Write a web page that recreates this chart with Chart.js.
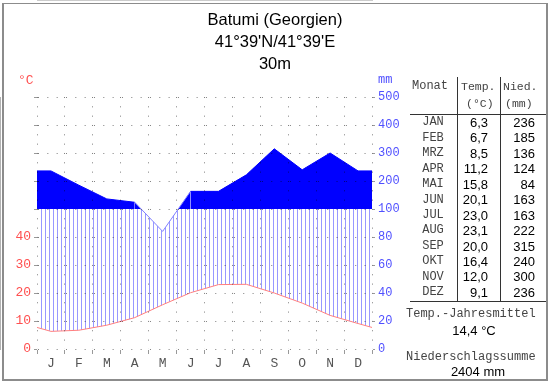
<!DOCTYPE html>
<html>
<head>
<meta charset="utf-8">
<script src="https://cdn.jsdelivr.net/npm/chart.js@4.4.1/dist/chart.umd.min.js"></script>
<style>
html,body{margin:0;padding:0;background:#fff;}
#wrap{position:relative;width:550px;height:384px;overflow:hidden;background:#fff;}
#c{position:absolute;left:0;top:0;}
#frame{position:absolute;left:2px;top:3px;width:546px;height:378px;box-sizing:border-box;border:2px solid #8c8c8c;border-top-width:1px;}
.t{position:absolute;white-space:nowrap;line-height:15px;}
.sans{font-family:"Liberation Sans",Arial,sans-serif;}
.mono{font-family:"Liberation Mono","Courier New",monospace;}
.title{left:0;width:550px;text-align:center;font-size:16.5px;line-height:20px;color:#000;}
.ln{position:absolute;background:#333;}
</style>
</head>
<body>
<div id="wrap">
  <canvas id="c" width="550" height="384"></canvas>
  <div id="frame"></div>
  <div id="texts"></div>
</div>
<script>
// ---- data ----
const stationTitle = ['Batumi (Georgien)', "41°39'N/41°39'E", '30m'];
const months = ['J','F','M','A','M','J','J','A','S','O','N','D'];
const monthNames = ['JAN','FEB','MRZ','APR','MAI','JUN','JUL','AUG','SEP','OKT','NOV','DEZ'];
const temperature = [6.3,6.7,8.5,11.2,15.8,20.1,23.0,23.1,20.0,16.4,12.0,9.1];
const precipitation = [236,185,136,124,84,163,163,222,315,240,300,236];
const tempTicks = [0,10,20,30,40];
const precipTicks = [0,20,40,60,80,100,200,300,400,500];
const annualMeanText = '14,4 °C';
const annualSumText = '2404 mm';

// mm -> axis units (0..100 mm : 2 mm per unit, above 100 mm : 10 mm per unit)
const mmToUnit = p => p <= 100 ? p / 2 : 50 + (p - 100) / 10;
const unitToMm = u => Math.round(u <= 50 ? u * 2 : 100 + (u - 50) * 10);

// series with wrap-around neighbours (previous Dec / next Jan), clipped by the axis range
function wrapSeries(arr, f) {
  const pts = [{x: -0.5, y: f(arr[arr.length - 1])}];
  arr.forEach((v, i) => pts.push({x: i + 0.5, y: f(v)}));
  pts.push({x: arr.length + 0.5, y: f(arr[0])});
  return pts;
}
const precipPts = wrapSeries(precipitation, mmToUnit);
const tempPts = wrapSeries(temperature, v => v);

// ---- texts (HTML) ----
const T = document.getElementById('texts');
function addText(txt, cls, style) {
  const d = document.createElement('div');
  d.className = 't ' + cls;
  d.textContent = txt;
  Object.assign(d.style, style);
  T.appendChild(d);
  return d;
}
function addLine(x, y, w, h) {
  const d = document.createElement('div');
  d.className = 'ln';
  Object.assign(d.style, {left: x + 'px', top: y + 'px', width: w + 'px', height: h + 'px'});
  T.appendChild(d);
}
const titleTops = [8.5, 31, 52.5];
stationTitle.forEach((s, i) => addText(s, 'sans title', {top: titleTops[i] + 'px'}));
addText('°C', 'mono', {left: '18px', top: '73px', fontSize: '13px', color: '#ff5050'});
addText('mm', 'mono', {left: '378px', top: '73px', fontSize: '12px', color: '#5050ff'});

// table
addLine(457, 77, 1, 224);
addLine(500, 77, 1, 224);
addLine(410, 114, 136, 1);
addLine(410, 301, 136, 1);
addText('Monat', 'mono', {left: '412px', top: '79px', fontSize: '12px', color: '#444'});
addText('Temp.', 'mono', {left: '461px', top: '79px', fontSize: '11.5px', color: '#444'});
addText('(°C)', 'mono', {left: '466px', top: '96px', fontSize: '11.5px', color: '#444'});
addText('Nied.', 'mono', {left: '503px', top: '79px', fontSize: '11.5px', color: '#444'});
addText('(mm)', 'mono', {left: '505px', top: '96px', fontSize: '11.5px', color: '#444'});
monthNames.forEach((m, i) => {
  const cy = 122.3 + i * 15.45;
  addText(m, 'mono', {left: '412px', width: '42px', textAlign: 'center', top: (cy - 7) + 'px', fontSize: '12px', color: '#444'});
  addText(temperature[i].toFixed(1).replace('.', ','), 'sans', {left: '458px', width: '30px', textAlign: 'right', top: (cy - 7.4) + 'px', fontSize: '13px', color: '#000'});
  addText(String(precipitation[i]), 'sans', {left: '500px', width: '35px', textAlign: 'right', top: (cy - 7.4) + 'px', fontSize: '13px', color: '#000'});
});
addText('Temp.-Jahresmittel', 'mono', {left: '406px', top: '307px', fontSize: '12px', color: '#444'});
addText(annualMeanText, 'sans', {left: '406px', width: '136px', textAlign: 'center', top: '322.5px', fontSize: '13px', color: '#000'});
addText('Niederschlagssumme', 'mono', {left: '406px', top: '349.5px', fontSize: '12px', color: '#444'});
addText(annualSumText, 'sans', {left: '410px', width: '136px', textAlign: 'center', top: '364px', fontSize: '13px', color: '#000'});

// ---- chart ----
const canvas = document.getElementById('c');
const ctx = canvas.getContext('2d');

// humid period hatching: vertical lines between temperature curve and precipitation curve
const hatchPlugin = {
  id: 'humidHatch',
  beforeDraw(chart) {
    const pMeta = chart.getDatasetMeta(0);
    const tMeta = chart.getDatasetMeta(1);
    if (!pMeta.data.length || !tMeta.data.length) return;
    const a = chart.chartArea;
    const c = chart.ctx;
    c.save();
    c.beginPath();
    c.rect(a.left, a.top, a.right - a.left, a.bottom - a.top);
    c.clip();
    c.beginPath();
    pMeta.data.forEach((p, i) => i ? c.lineTo(p.x, p.y) : c.moveTo(p.x, p.y));
    for (let i = tMeta.data.length - 1; i >= 0; i--) c.lineTo(tMeta.data[i].x, tMeta.data[i].y);
    c.closePath();
    c.clip();
    c.strokeStyle = '#9898ff';
    c.lineWidth = 1;
    c.beginPath();
    for (let x = Math.round(a.left) + 4; x < a.right; x += 4) {
      c.moveTo(x + 0.5, a.top);
      c.lineTo(x + 0.5, a.bottom);
    }
    c.stroke();
    c.restore();
  }
};

const gridColor = 'rgba(0,0,0,0.5)';
const axisColor = '#999';
const dotDash = [1, 8.33];
const monoFont = '"Liberation Mono","Courier New",monospace';

new Chart(ctx, {
  type: 'line',
  plugins: [hatchPlugin],
  data: {
    datasets: [
      {
        label: 'Niederschlag',
        data: precipPts,
        borderWidth: 1,
        pointRadius: 0,
        tension: 0,
        borderColor: '#8080ff',
        segment: {
          borderColor: c => (c.p0.parsed.y > 50 && c.p1.parsed.y > 50) ? '#0000ff' : '#8080ff'
        },
        backgroundColor: '#0000ff',
        fill: {target: {value: 50}, above: '#0000ff', below: 'rgba(0,0,0,0)'}
      },
      {
        label: 'Temperatur',
        data: tempPts,
        borderWidth: 1,
        pointRadius: 0,
        tension: 0,
        borderColor: '#ff7f7f',
        backgroundColor: 'rgba(0,0,0,0)',
        fill: false
      }
    ]
  },
  options: {
    responsive: false,
    animation: false,
    devicePixelRatio: 1,
    events: [],
    layout: {padding: {top: 97, left: 0, right: 0, bottom: 0}},
    plugins: {legend: {display: false}, tooltip: {enabled: false}, title: {display: false}},
    scales: {
      x: {
        type: 'linear', min: 0, max: 12, position: 'bottom',
        afterBuildTicks: s => { s.ticks = months.map((_, i) => ({value: i})).concat([{value: months.length}]); },
        afterFit: s => { s.height = 35; },
        ticks: {
          callback: v => months[v] !== undefined ? months[v] : '',
          labelOffset: 14, padding: 2, color: '#555', autoSkip: false, maxRotation: 0,
          font: {family: monoFont, size: 13}
        },
        grid: {color: gridColor, lineWidth: 1, tickLength: 5, tickColor: axisColor, z: 1},
        border: {display: true, color: axisColor, dash: dotDash}
      },
      y: {
        type: 'linear', min: 0, max: 90, position: 'left',
        afterBuildTicks: s => { s.ticks = precipTicks.map(p => ({value: mmToUnit(p)})); },
        afterFit: s => { s.width = 37; },
        ticks: {
          callback: v => tempTicks.includes(v) ? String(v) : '',
          padding: 3, color: '#ff5050', autoSkip: false,
          font: {family: monoFont, size: 13}
        },
        grid: {color: gridColor, lineWidth: 1, tickLength: 3, tickColor: axisColor, z: 1},
        border: {display: true, color: axisColor, dash: dotDash}
      },
      y2: {
        type: 'linear', min: 0, max: 90, position: 'right',
        afterBuildTicks: s => { s.ticks = precipTicks.map(p => ({value: mmToUnit(p)})); },
        afterFit: s => { s.width = 178; },
        ticks: {
          callback: v => String(unitToMm(v)),
          padding: 3, color: '#5050ff', autoSkip: false,
          font: {family: monoFont, size: 12}
        },
        grid: {drawOnChartArea: false, tickLength: 3, tickColor: axisColor, z: 1},
        border: {display: true, color: axisColor}
      }
    }
  }
});
</script>
</body>
</html>
